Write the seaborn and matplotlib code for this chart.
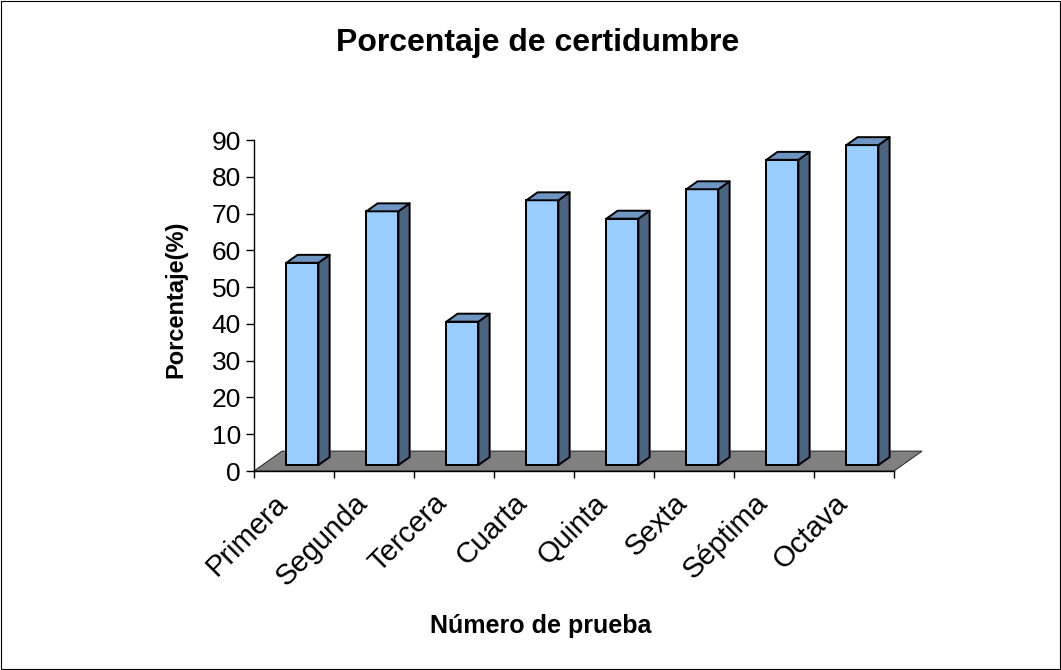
import matplotlib
matplotlib.use("Agg")
import matplotlib.pyplot as plt
from matplotlib.patches import Polygon, Rectangle
from matplotlib.ticker import FixedLocator, MultipleLocator
from matplotlib.transforms import ScaledTranslation
import seaborn as sns

# Test runs and the certainty percentage obtained in each one
categories = ["Primera", "Segunda", "Tercera", "Cuarta", "Quinta", "Sexta", "Séptima", "Octava"]
values = [55, 69, 39, 72, 67, 75, 83, 87]

sns.set_theme(style="white")
plt.rcParams["font.family"] = ["Liberation Sans", "DejaVu Sans"]
plt.rcParams["text.color"] = "black"
plt.rcParams["axes.labelcolor"] = "black"
plt.rcParams["xtick.color"] = "black"
plt.rcParams["ytick.color"] = "black"

fig = plt.figure(figsize=(10.61, 6.70), dpi=100)
ax = fig.add_axes([0.2394, 0.297, 0.6032, 0.494])

FRONT = "#99CCFF"
TOP = "#6F96C2"
SIDE = "#4B6581"
FLOOR = "#808080"

sns.barplot(x=categories, y=values, color=FRONT, saturation=1, width=0.4,
            edgecolor="black", linewidth=1.4, ax=ax, zorder=3)

ymax = 90
ax.set_xlim(-0.5, len(categories) - 0.5)
ax.set_ylim(0, ymax)

# Oblique depth of the floor (in data units) and the bar's slice of it
floor_dx, floor_dy = 0.35, 0.06 * ymax
front_frac, depth_frac = 0.3, 0.4

bars = list(ax.patches)

# Floor plane
x0, x1 = -0.5, len(categories) - 0.5
floor = Polygon([(x0, 0), (x1, 0), (x1 + floor_dx, floor_dy), (x0 + floor_dx, floor_dy)],
                closed=True, facecolor=FLOOR, edgecolor="#333333", linewidth=0.8,
                zorder=1, clip_on=False)
ax.add_patch(floor)

ox, oy = front_frac * floor_dx, front_frac * floor_dy
bdx, bdy = depth_frac * floor_dx, depth_frac * floor_dy
for bar in bars:
    bx, bw, h = bar.get_x(), bar.get_width(), bar.get_height()
    bar.set_x(bx + ox)
    bar.set_y(oy)
    bar.set_clip_on(False)
    left, right = bx + ox, bx + ox + bw
    base, top = oy, oy + h
    side = Polygon([(right, base), (right + bdx, base + bdy), (right + bdx, top + bdy), (right, top)],
                   closed=True, facecolor=SIDE, edgecolor="black", linewidth=1.4,
                   joinstyle="round", zorder=3, clip_on=False)
    lid = Polygon([(left, top), (right, top), (right + bdx, top + bdy), (left + bdx, top + bdy)],
                  closed=True, facecolor=TOP, edgecolor="black", linewidth=1.4,
                  joinstyle="round", zorder=3, clip_on=False)
    ax.add_patch(side)
    ax.add_patch(lid)

# Axes styling
for s in ("top", "right"):
    ax.spines[s].set_visible(False)
for s in ("left", "bottom"):
    ax.spines[s].set_color("black")
    ax.spines[s].set_linewidth(1.0)
    ax.spines[s].set_zorder(2)

ax.yaxis.set_major_locator(MultipleLocator(10))
ax.tick_params(axis="y", which="major", direction="out", length=6, width=1.0,
               color="black", labelsize=19, pad=3.5, left=True, labelcolor="black")
ax.set_yticklabels([f"{int(v)}" for v in ax.get_yticks()])

ax.xaxis.set_minor_locator(FixedLocator([i - 0.5 for i in range(len(categories) + 1)]))
ax.tick_params(axis="x", which="minor", direction="out", length=5, width=1.0,
               color="black", bottom=True)
ax.tick_params(axis="x", which="major", length=0, labelsize=21, pad=13, labelcolor="black")
shift = ScaledTranslation(-15 / 72, 0, fig.dpi_scale_trans)
for lbl in ax.get_xticklabels():
    lbl.set_rotation(45)
    lbl.set_ha("right")
    lbl.set_va("top")
    lbl.set_rotation_mode("anchor")
    lbl.set_transform(lbl.get_transform() + shift)

ax.grid(False)
ax.set_facecolor("white")

ax.set_ylabel("Porcentaje(%)", fontsize=17, fontweight="bold", color="black")
ax.yaxis.label.set_va("center")
ax.yaxis.set_label_coords(-0.122, 0.518)
ax.set_xlabel("Número de prueba", fontsize=18, fontweight="bold", color="black")
ax.xaxis.label.set_va("center")
ax.xaxis.set_label_coords(0.448, -0.468)

ax.set_title("Porcentaje de certidumbre", fontsize=23, fontweight="bold",
             color="black", x=0.443, y=1.269, va="center")

# Thin frame around the whole chart area
fig.patches.append(Rectangle((0.0005, 0.0008), 0.999, 0.9984, transform=fig.transFigure,
                             fill=False, edgecolor="black", linewidth=0.8))

fig.savefig("out.png", dpi=100)
